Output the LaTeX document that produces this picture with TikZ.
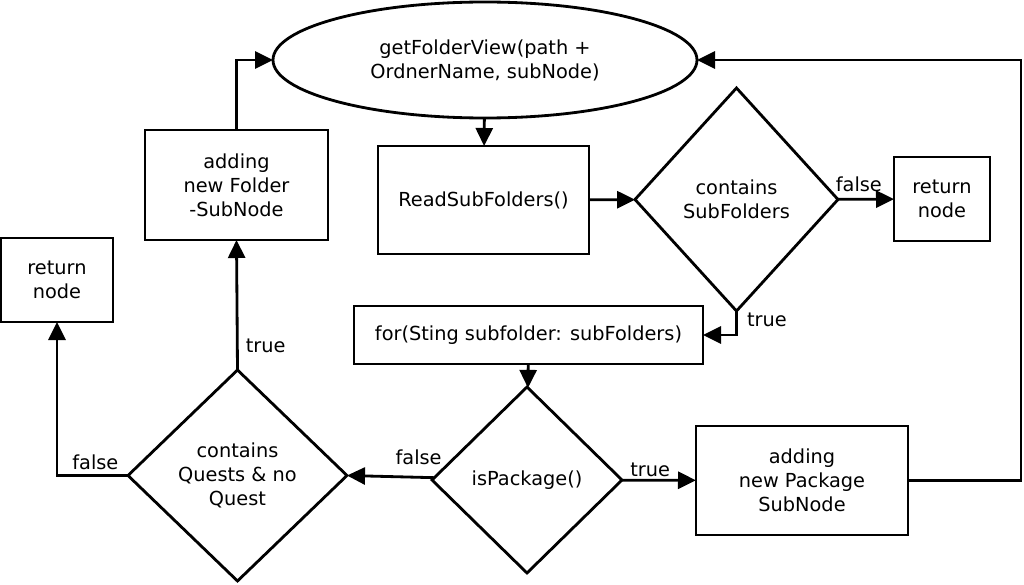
\documentclass[tikz,border=0pt]{standalone}
\usepackage{fontspec}
\setmainfont{DejaVu Sans}
\usetikzlibrary{positioning}
\usetikzlibrary{shapes.geometric,arrows.meta}

\begin{document}
\begin{tikzpicture}[line width=1.6pt,
  font=\fontsize{11}{13.6}\selectfont,
  every node/.style={outer sep=0pt},
  box/.style={draw,rectangle,align=center,inner sep=0pt},
  test/.style={draw,diamond,align=center,inner sep=0pt},
  flow/.style={-{Triangle[length=0.36cm,width=0.34cm]}},
  lbl/.style={inner sep=1pt}]
 \useasboundingbox (0,0) rectangle (20.48,11.68);
 \node[draw,ellipse,align=center,minimum width=8.48cm,minimum height=2.32cm] (view) at (9.70,10.48) {getFolderView(path +\\OrdnerName, subNode)};
 \node[box,minimum width=4.22cm,minimum height=2.16cm] (read) at (9.67,7.68) {ReadSubFolders()};
 \node[test,minimum width=4.06cm,minimum height=4.46cm] (sub) at (14.73,7.69) {contains\\SubFolders};
 \node[box,minimum width=1.92cm,minimum height=1.68cm] (retR) at (18.84,7.70) {return\\node};
 \node[box,minimum width=3.66cm,minimum height=2.20cm] (folder) at (4.73,7.98) {adding\\new Folder\\-SubNode};
 \node[box,minimum width=2.24cm,minimum height=1.68cm] (retL) at (1.14,6.08) {return\\node};
 \node[box,minimum width=6.98cm,minimum height=1.16cm] (loop) at (10.57,4.98) {for(Sting subfolder: subFolders)};
 \node[test,minimum width=3.80cm,minimum height=3.72cm] (pkg) at (10.54,2.08) {isPackage()};
 \node[test,minimum width=4.38cm,minimum height=4.22cm] (quest) at (4.75,2.17) {contains\\Quests \& no\\Quest};
 \node[box,minimum width=4.24cm,minimum height=2.18cm] (addpkg) at (16.04,2.07) {adding\\new Package\\SubNode};
 \coordinate (back) at (20.42,10.48);
 \draw[flow] (view) -- (read);
 \draw[flow] (read) -- (sub);
 \draw[flow] (sub) -- node[lbl,above=-1pt,xshift=-4pt,yshift=4pt] {false} (retR);
 \draw[flow] (sub.south) |- (loop.east);
 \node[lbl,right=5pt of sub.south,yshift=-0.18cm] (tSub) {true};
 \draw[flow] (loop) -- (pkg);
 \draw[flow] (pkg) -- node[lbl,above,xshift=-5pt,yshift=1pt] {true} (addpkg);
 \draw[flow] (addpkg.east) -| (back) -- (view.east);
 \draw[flow] (pkg) -- node[lbl,above,pos=0.18,yshift=6pt] {false} (quest.east);
 \draw[flow] (quest.north) -- node[lbl,right=4pt,yshift=-0.82cm] {true} (folder.south);
 \draw[flow] (quest.west) -| node[lbl,above,pos=0.23,yshift=2pt] {false} (retL.south);
 \draw[flow] (folder.north) |- (view.west);
\end{tikzpicture}
\end{document}
